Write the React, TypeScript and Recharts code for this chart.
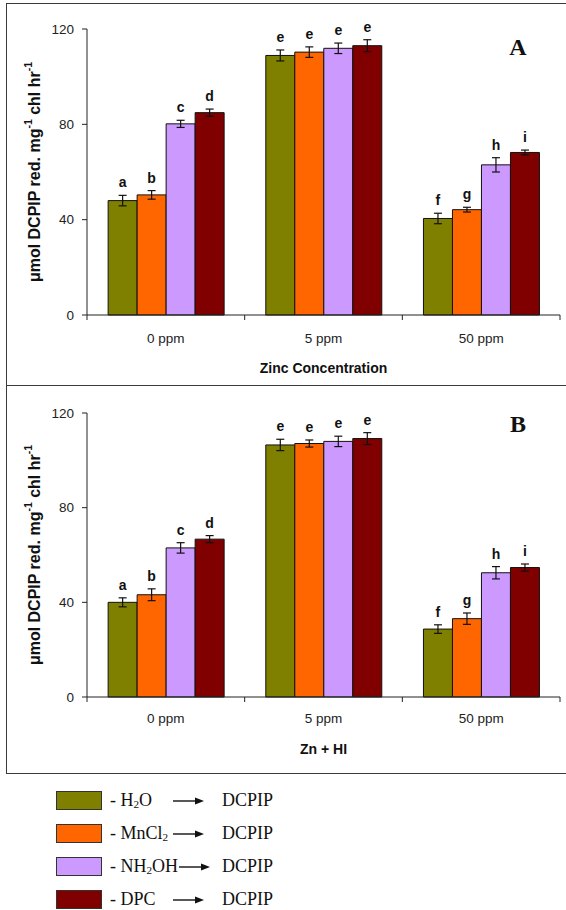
import React from 'react';
import { BarChart, Bar, XAxis, YAxis, ErrorBar, LabelList, Label } from 'recharts';

const categories = ['0 ppm', '5 ppm', '50 ppm'];
const seriesNames = ['H2O', 'MnCl2', 'NH2OH', 'DPC'];
const seriesColors = ['#808000', '#FF6600', '#CC99FF', '#800000'];
const yTicks = [0, 40, 80, 120];

// panel A: Zinc Concentration
const h2oA = [48, 108.9, 40.5];
const mncl2A = [50.4, 110.3, 44.2];
const nh2ohA = [80.2, 111.9, 63];
const dpcA = [84.9, 113, 68.2];
const h2oErrA = [2.2, 2.3, 2.2];
const mncl2ErrA = [1.8, 2.2, 1];
const nh2ohErrA = [1.5, 2.2, 3];
const dpcErrA = [1.5, 2.5, 1];

// panel B: Zn + HI
const h2oB = [40, 106.5, 28.7];
const mncl2B = [43.2, 107.1, 33.1];
const nh2ohB = [63, 108, 52.5];
const dpcB = [66.7, 109.2, 54.7];
const h2oErrB = [1.9, 2.4, 1.8];
const mncl2ErrB = [2.5, 1.5, 2.4];
const nh2ohErrB = [2.2, 2.2, 2.6];
const dpcErrB = [1.5, 2.5, 1.5];

const h2oLetters = ['a', 'e', 'f'];
const mncl2Letters = ['b', 'e', 'g'];
const nh2ohLetters = ['c', 'e', 'h'];
const dpcLetters = ['d', 'e', 'i'];
const letters = [h2oLetters, mncl2Letters, nh2ohLetters, dpcLetters];

const W = 566;
const Y_AXIS_W = 87;
const MARGIN_R = 6;
const PLOT_W = W - Y_AXIS_W - MARGIN_R;
const BAND = PLOT_W / categories.length;
const FONT = '"Liberation Sans", Arial, sans-serif';

function buildRows(values: number[][], errs: number[][]) {
  return categories.map((name, i) => {
    const row: any = { name };
    values.forEach((v, s) => {
      row['v' + s] = v[i];
      row['e' + s] = errs[s][i];
      row['l' + s] = letters[s][i];
    });
    return row;
  });
}

const dataA = buildRows([h2oA, mncl2A, nh2ohA, dpcA], [h2oErrA, mncl2ErrA, nh2ohErrA, dpcErrA]);
const dataB = buildRows([h2oB, mncl2B, nh2ohB, dpcB], [h2oErrB, mncl2ErrB, nh2ohErrB, dpcErrB]);

const YLabel = ({ viewBox }: any) => {
  const cx = (viewBox?.x ?? 0) + 34;
  const cy = viewBox.y + viewBox.height / 2;
  return (
    <text
      x={cx}
      y={cy}
      transform={`rotate(-90, ${cx}, ${cy})`}
      textAnchor="middle"
      dominantBaseline="central"
      fontFamily={FONT}
      fontWeight="bold"
      fontSize={16}
      fill="#111"
    >
      μmol DCPIP red. mg
      <tspan dy={-6} fontSize={10.5}>-1</tspan>
      <tspan dy={6}> chl hr</tspan>
      <tspan dy={-6} fontSize={10.5}>-1</tspan>
    </text>
  );
};

const makeCatTick = (labelDy: number) => (props: any) => {
  const { x, y, payload, index } = props;
  const left = x - BAND / 2;
  return (
    <g>
      <line x1={left} x2={left} y1={y} y2={y + 5} stroke="#222" />
      {index === categories.length - 1 && (
        <line x1={x + BAND / 2} x2={x + BAND / 2} y1={y} y2={y + 5} stroke="#222" />
      )}
      <text x={x} y={y + labelDy} textAnchor="middle" dominantBaseline="central" fontFamily={FONT} fontSize={13.5} fill="#222">
        {payload.value}
      </text>
    </g>
  );
};

const makeLetter = (errs: number[], perUnit: number) => (props: any) => {
  const x = props.x ?? props.viewBox?.x;
  const y = props.y ?? props.viewBox?.y;
  const width = props.width ?? props.viewBox?.width;
  const top = y - errs[props.index] * perUnit - 8;
  return (
    <text x={x + width / 2} y={top} textAnchor="middle" fontFamily={FONT} fontWeight="bold" fontSize={14} fill="#111">
      {props.value}
    </text>
  );
};

type PanelProps = {
  data: any[];
  errs: number[][];
  top: number;
  height: number;
  marginTop: number;
  xAxisHeight: number;
  tickDy: number;
  xLabel: string;
  xLabelOffset: number;
  letter: string;
  letterTop: number;
};

function Panel({ data, errs, top, height, marginTop, xAxisHeight, tickDy, xLabel, xLabelOffset, letter, letterTop }: PanelProps) {
  const plotH = height - marginTop - xAxisHeight;
  const perUnit = plotH / 120;
  return (
    <div style={{ position: 'absolute', left: 0, top, width: W, height }}>
      <BarChart
        width={W}
        height={height}
        data={data}
        margin={{ top: marginTop, right: MARGIN_R, left: 0, bottom: 0 }}
        barCategoryGap="13.4%"
        barGap={0}
      >
        <XAxis
          dataKey="name"
          height={xAxisHeight}
          tickSize={0}
          tickMargin={0}
          tick={makeCatTick(tickDy)}
          axisLine={{ stroke: '#222' }}
        >
          <Label
            value={xLabel}
            position="insideBottom"
            offset={xLabelOffset}
            style={{ fontFamily: FONT, fontWeight: 'bold', fontSize: 14, fill: '#111' }}
          />
        </XAxis>
        <YAxis
          width={Y_AXIS_W}
          domain={[0, 120]}
          ticks={yTicks}
          tickSize={5}
          tickMargin={8}
          axisLine={{ stroke: '#222' }}
          tickLine={{ stroke: '#222' }}
          tick={{ fontFamily: FONT, fontSize: 13.5, fill: '#222' }}
        >
          <Label content={<YLabel />} />
        </YAxis>
        {seriesNames.map((s, i) => (
          <Bar key={s} dataKey={'v' + i} fill={seriesColors[i]} stroke="#111" strokeWidth={1} isAnimationActive={false}>
            <ErrorBar dataKey={'e' + i} width={4} stroke="#111" strokeWidth={1.2} />
            <LabelList dataKey={'l' + i} content={makeLetter(errs[i], perUnit)} />
          </Bar>
        ))}
      </BarChart>
      <div
        style={{
          position: 'absolute',
          left: 503,
          top: letterTop,
          width: 30,
          textAlign: 'center',
          fontFamily: '"Liberation Serif", "Times New Roman", serif',
          fontWeight: 'bold',
          fontSize: 24,
          lineHeight: 1,
          color: '#111',
        }}
      >
        {letter}
      </div>
    </div>
  );
}

const formula = (s: string) =>
  s.split(/(\d)/).filter(Boolean).map((p, i) =>
    /\d/.test(p) ? (
      <sub key={i} style={{ fontSize: '0.62em', verticalAlign: '-0.2em', lineHeight: 0 }}>{p}</sub>
    ) : (
      <span key={i}>{p}</span>
    )
  );

const Arrow = () => (
  <svg width={31} height={10} style={{ display: 'block' }}>
    <line x1={0} y1={5} x2={24} y2={5} stroke="#111" strokeWidth={1.4} />
    <polygon points="22,1.5 31,5 22,8.5" fill="#111" />
  </svg>
);

function LegendBlock() {
  return (
    <>
      {seriesNames.map((s, i) => (
        <div
          key={s}
          style={{
            position: 'absolute',
            left: 56,
            top: 791 + i * 33,
            width: 217,
            height: 19,
            display: 'flex',
            alignItems: 'center',
            fontFamily: '"Liberation Serif", "Times New Roman", serif',
            fontSize: 18,
            lineHeight: '15px',
            color: '#111',
            whiteSpace: 'nowrap',
          }}
        >
          <div style={{ width: 44, height: 17, background: seriesColors[i], border: '1px solid #333', flex: 'none' }} />
          <span style={{ marginLeft: 8, minWidth: 62 }}>- {formula(s)}</span>
          <span style={{ marginLeft: 1 }}>
            <Arrow />
          </span>
          <span style={{ marginLeft: 'auto' }}>DCPIP</span>
        </div>
      ))}
    </>
  );
}

export default function App() {
  return (
    <div style={{ position: 'absolute', left: 0, top: 0, width: W, height: 910, overflow: 'hidden', background: '#fff' }}>
      <Panel
        data={dataA}
        errs={[h2oErrA, mncl2ErrA, nh2ohErrA, dpcErrA]}
        top={0}
        height={385}
        marginTop={29}
        xAxisHeight={70}
        tickDy={23}
        xLabel="Zinc Concentration"
        xLabelOffset={12}
        letter="A"
        letterTop={35}
      />
      <Panel
        data={dataB}
        errs={[h2oErrB, mncl2ErrB, nh2ohErrB, dpcErrB]}
        top={385}
        height={389}
        marginTop={28}
        xAxisHeight={77}
        tickDy={21}
        xLabel="Zn + HI"
        xLabelOffset={20}
        letter="B"
        letterTop={27}
      />
      <div style={{ position: 'absolute', left: 6, top: 3, width: 560, height: 771, borderTop: '1.5px solid #3a3a3a', borderLeft: '1.5px solid #3a3a3a', borderBottom: '1.5px solid #3a3a3a', boxSizing: 'border-box', pointerEvents: 'none' }} />
      <div style={{ position: 'absolute', left: 6, top: 385, width: 560, height: 0, borderTop: '1.5px solid #3a3a3a' }} />
      <LegendBlock />
    </div>
  );
}
